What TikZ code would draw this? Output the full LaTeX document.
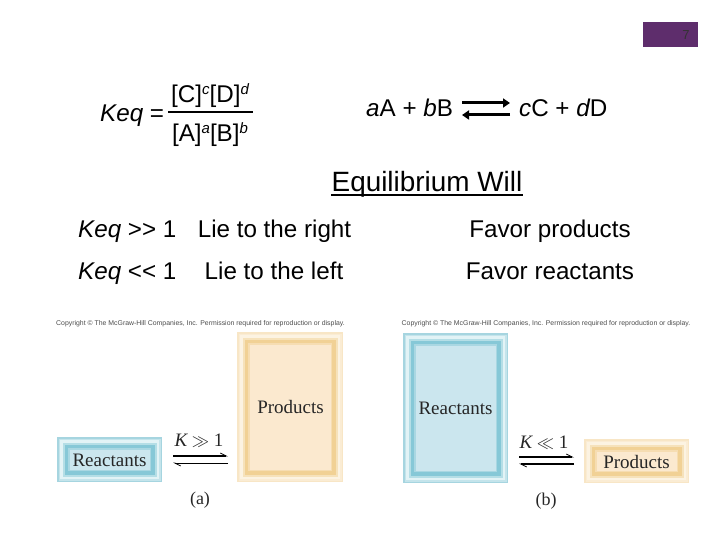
\documentclass[tikz,border=0pt]{standalone}
\usepackage{fontspec}
\setmainfont{Liberation Sans}
\newfontfamily\serifpic{Liberation Serif}
\usetikzlibrary{arrows.meta,calc}
\definecolor{purp}{HTML}{5E2D6C}
\definecolor{bO}{HTML}{A6D5E0}\definecolor{bP}{HTML}{E2F3F6}\definecolor{bD}{HTML}{86C8D7}\definecolor{bI}{HTML}{CBE6EE}
\definecolor{oO}{HTML}{F8E6C6}\definecolor{oP}{HTML}{FCF3E2}\definecolor{oD}{HTML}{F1D195}\definecolor{oI}{HTML}{FBE9CF}
\newcommand{\nestbox}[8]{% name, x1,y1,x2,y2, colour prefix, label shift, label
  \path[fill=#6O] (#2,#3) rectangle (#4,#5);
  \path[fill=#6O!50!#6P] (#2+1.5,#3+1.5) rectangle (#4-1.5,#5-1.5);
  \path[fill=#6P] (#2+3,#3+3) rectangle (#4-3,#5-3);
  \path[fill=#6P!50!#6D] (#2+5.5,#3+5.5) rectangle (#4-5.5,#5-5.5);
  \path[fill=#6D] (#2+7.5,#3+7.5) rectangle (#4-7.5,#5-7.5);
  \path[fill=#6D!50!#6I] (#2+11,#3+11) rectangle (#4-11,#5-11);
  \path[fill=#6I] (#2+12.5,#3+12.5) rectangle (#4-12.5,#5-12.5);
  \node[picl] (#1) at ({(#2+#4)/2},{(#3+#5)/2+#7}) {#8};
}
\tikzset{
  txt/.style={font=\fontsize{24.2}{28}\selectfont,inner sep=0pt,anchor=base},
  picl/.style={font=\serifpic\fontsize{19}{22}\selectfont,text=black!85,inner sep=0pt},
  copyr/.style={font=\fontsize{6.9}{8}\selectfont,text=black!70,inner sep=0pt},
  capt/.style={font=\serifpic\fontsize{18}{21}\selectfont,text=black!85,inner sep=0pt},
  klab/.style={font=\serifpic\fontsize{19}{22}\selectfont,text=black!85,inner sep=0pt},
  barb/.style={-{Straight Barb[left,length=6pt,width=6pt,line width=.8pt]}},
  fatarrow/.style={line width=3pt,-{Triangle[length=7pt,width=9pt]}}
}
\newcommand{\supr}[1]{\raisebox{8pt}{\fontsize{15}{17}\selectfont\itshape #1}}
\begin{document}
\begin{tikzpicture}[x=1pt,y=-1pt]
\useasboundingbox (0,0) rectangle (720,540);
\node[fill=purp,minimum width=55pt,minimum height=25pt,inner sep=0pt] (pg) at (670.5,34.5) {};
\node[font=\fontsize{13}{15}\selectfont,text=black!80,inner sep=0pt] (pgn) at (686,35) {7};
% formula
\node[txt,anchor=base west] (keq) at (100,122) {\itshape Keq \upshape=};
\node[txt] (num) at (210,103) {[C]\supr{c}[D]\supr{d}};
\node[txt] (den) at (210,142) {[A]\supr{a}[B]\supr{b}};
\coordinate (fa) at (168,112); \coordinate (fb) at (253,112);
\draw[line width=2.4pt] (fa) -- (fb);
% reaction
\node[txt,anchor=base west] (lhs) at (366,117) {\itshape a\upshape A + \itshape b\upshape B};
\node[txt,anchor=base west] (rhs) at (519,117) {\itshape c\upshape C + \itshape d\upshape D};
\coordinate (r1) at (462,103); \coordinate (r2) at (510,103);
\coordinate (r3) at (510,115); \coordinate (r4) at (462,115);
\draw[fatarrow] (r1) -- (r2);
\draw[fatarrow] (r3) -- (r4);
% table
\node[txt,font=\fontsize{27.9}{32}\selectfont] (eq) at (427,192) {Equilibrium Will};
\coordinate (u1) at (331,195); \coordinate (u2) at (523,195);
\draw[line width=1.1pt] (u1) -- (u2);
\node[txt,anchor=base west] (k1) at (78,237) {\itshape Keq \upshape >{}> 1};
\node[txt] (t1) at (274.5,237) {Lie to the right};
\node[txt] (f1) at (550,237) {Favor products};
\node[txt,anchor=base west] (k2) at (78,279) {\itshape Keq \upshape <{}< 1};
\node[txt] (t2) at (274,279) {Lie to the left};
\node[txt] (f2) at (550,279) {Favor reactants};
% panel a
\node[copyr] (ca) at (200.5,323.5) {Copyright © The McGraw-Hill Companies, Inc. Permission required for reproduction or display.};
\nestbox{ra}{57}{437}{162}{482}{b}{0.5}{Reactants}
\nestbox{pa}{237}{332}{343}{482}{o}{-0.5}{}
\node[picl] (pal) at (290.5,407) {Products};
\node[klab] (ka) at (199,441) {\itshape K\upshape\ $\gg$ 1};
\coordinate (a1) at (173,456); \coordinate (a2) at (228,456);
\coordinate (a3) at (228,463); \coordinate (a4) at (173,463);
\draw[line width=1.6pt,barb] (a1) -- (a2);
\draw[line width=1pt,barb] (a3) -- (a4);
\node[capt] (la) at (200,500) {(a)};
% panel b
\node[copyr] (cb) at (546,323.5) {Copyright © The McGraw-Hill Companies, Inc. Permission required for reproduction or display.};
\nestbox{rb}{403}{333}{508}{483}{b}{0}{}
\node[picl] (rbl) at (455.5,408.5) {Reactants};
\nestbox{pb}{584}{439}{689}{483}{o}{0.5}{Products}
\node[klab] (kb) at (544,443) {\itshape K\upshape\ $\ll$ 1};
\coordinate (b1) at (519,457); \coordinate (b2) at (574,457);
\coordinate (b3) at (574,464); \coordinate (b4) at (519,464);
\draw[line width=1.2pt,barb] (b1) -- (b2);
\draw[line width=1.2pt,barb] (b3) -- (b4);
\node[capt] (lb) at (546,501) {(b)};
\end{tikzpicture}
\end{document}
